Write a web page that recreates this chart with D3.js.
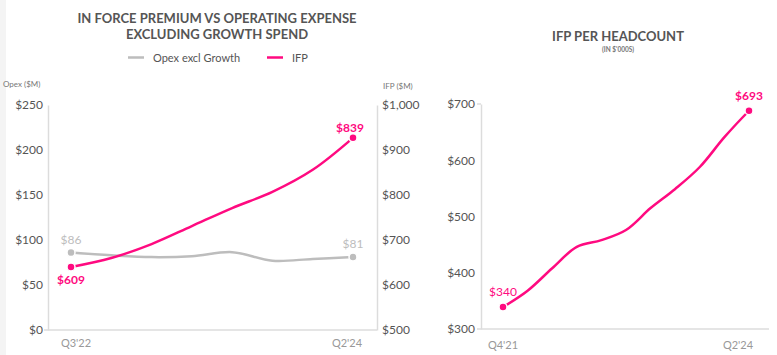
<!DOCTYPE html>
<html><head><meta charset="utf-8">
<script src="https://cdn.jsdelivr.net/npm/d3@7"></script>
<style>body{margin:0;background:#fff;font-family:Lato,"Open Sans",sans-serif}</style>
</head><body><svg id="c" width="777" height="355"></svg>
<script>
// ---- data ----
const quartersA = ["Q3'22","Q4'22","Q1'23","Q2'23","Q3'23","Q4'23","Q1'24","Q2'24"];
const opex = [86, 83, 81, 82, 86.5, 77, 79, 81];
const ifp = [640, 660, 691, 731, 771, 807, 856, 927];
const opexLabels = ["$86", "$81"];
const ifpLabels = ["$609", "$839"];
const opexTicks = [0, 50, 100, 150, 200, 250];
const ifpTicks = [500, 600, 700, 800, 900, 1000];

const quartersB = ["Q4'21","Q1'22","Q2'22","Q3'22","Q4'22","Q1'23","Q2'23","Q3'23","Q4'23","Q1'24","Q2'24"];
const perHead = [339, 368, 408, 446, 458, 476, 515, 549, 588, 641, 688];
const perHeadLabels = ["$340", "$693"];
const perHeadTicks = [300, 400, 500, 600, 700];

const PINK = "#ff0a80", GRAY = "#bdbdbd", TXT = "#555", AX = "#dcdcdc";
const svg = d3.select("#c");
svg.append("rect").attr("x",0).attr("y",0).attr("width",6).attr("height",355).attr("fill","#f4f4f4");

// ---- left chart ----
const xA = d3.scalePoint().domain(quartersA).range([71, 353]);
const yL = d3.scaleLinear().domain([0, 250]).range([330, 105]);
const yR = d3.scaleLinear().domain([500, 1000]).range([330, 105]);

svg.append("text").attr("x",217).attr("y",23).attr("text-anchor","middle")
  .attr("font-size",13).attr("font-weight",700).attr("fill",TXT).text("IN FORCE PREMIUM VS OPERATING EXPENSE");
svg.append("text").attr("x",217).attr("y",39).attr("text-anchor","middle")
  .attr("font-size",13).attr("font-weight",700).attr("fill",TXT).text("EXCLUDING GROWTH SPEND");

// legend
svg.append("line").attr("x1",128).attr("x2",144).attr("y1",57.5).attr("y2",57.5).attr("stroke",GRAY).attr("stroke-width",2.5);
svg.append("text").attr("x",153).attr("y",61.5).attr("font-size",11).attr("fill",TXT).text("Opex excl Growth");
svg.append("line").attr("x1",267).attr("x2",283).attr("y1",57.5).attr("y2",57.5).attr("stroke",PINK).attr("stroke-width",2.5);
svg.append("text").attr("x",292).attr("y",61.5).attr("font-size",11).attr("fill",TXT).text("IFP");

svg.append("text").attr("x",3).attr("y",87).attr("font-size",8).attr("fill","#777").text("Opex ($M)");
svg.append("text").attr("x",383).attr("y",89).attr("font-size",8).attr("fill","#777").text("IFP ($M)");

const axL = svg.append("g").attr("transform","translate(48,0)")
  .call(d3.axisLeft(yL).tickValues(opexTicks).tickFormat(d=>"$"+d).tickSize(0).tickPadding(5));
axL.select(".domain").attr("stroke",AX).attr("stroke-width",1.5);
axL.selectAll("text").attr("font-family","Lato").attr("font-size",12).attr("fill",TXT);
const axR = svg.append("g").attr("transform","translate(377,0)")
  .call(d3.axisRight(yR).tickValues(ifpTicks).tickFormat(d3.format("$,")).tickSize(0).tickPadding(5));
axR.select(".domain").attr("stroke",AX).attr("stroke-width",1.5);
axR.selectAll("text").attr("font-family","Lato").attr("font-size",12).attr("fill",TXT);
svg.append("line").attr("x1",44).attr("x2",377).attr("y1",330).attr("y2",330).attr("stroke",AX).attr("stroke-width",1.5);

svg.append("text").attr("x",xA(quartersA[0])+5).attr("y",347).attr("text-anchor","middle").attr("font-size",11).attr("fill","#999").text(quartersA[0]);
svg.append("text").attr("x",xA(quartersA[7])-6).attr("y",347).attr("text-anchor","middle").attr("font-size",11).attr("fill","#999").text(quartersA[7]);

const lineO = d3.line().x((d,i)=>xA(quartersA[i])).y(d=>yL(d)).curve(d3.curveCatmullRom.alpha(0.5));
const lineI = d3.line().x((d,i)=>xA(quartersA[i])).y(d=>yR(d)).curve(d3.curveCatmullRom.alpha(0.5));
svg.append("path").attr("d",lineO(opex)).attr("fill","none").attr("stroke",GRAY).attr("stroke-width",2.5);
svg.append("path").attr("d",lineI(ifp)).attr("fill","none").attr("stroke",PINK).attr("stroke-width",2.5);
[0,7].forEach((i,k)=>{
  svg.append("circle").attr("cx",xA(quartersA[i])).attr("cy",yL(opex[i])).attr("r",4).attr("fill",GRAY).attr("stroke","#fff").attr("stroke-width",1.5);
  svg.append("circle").attr("cx",xA(quartersA[i])).attr("cy",yR(ifp[i])).attr("r",4).attr("fill",PINK).attr("stroke","#fff").attr("stroke-width",1.5);
  svg.append("text").attr("x",xA(quartersA[i])).attr("y",yL(opex[i])-9).attr("text-anchor","middle")
    .attr("font-size",12).attr("fill",GRAY).text(opexLabels[k]);
});
svg.append("text").attr("x",xA(quartersA[0])).attr("y",yR(ifp[0])+17).attr("text-anchor","middle")
  .attr("font-size",12).attr("font-weight",700).attr("fill",PINK).text(ifpLabels[0]);
svg.append("text").attr("x",xA(quartersA[7])-3).attr("y",yR(ifp[7])-6).attr("text-anchor","middle")
  .attr("font-size",12).attr("font-weight",700).attr("fill",PINK).text(ifpLabels[1]);

// ---- right chart ----
const xB = d3.scalePoint().domain(quartersB).range([503, 749]);
const yB = d3.scaleLinear().domain([300, 700]).range([329, 104]);
svg.append("text").attr("x",618).attr("y",41).attr("text-anchor","middle")
  .attr("font-size",13).attr("font-weight",700).attr("fill",TXT).text("IFP PER HEADCOUNT");
svg.append("text").attr("x",618).attr("y",52).attr("text-anchor","middle")
  .attr("font-size",6.5).attr("font-weight",700).attr("fill","#777").text("(IN $'000S)");
const axB = svg.append("g").attr("transform","translate(481,0)")
  .call(d3.axisLeft(yB).tickValues(perHeadTicks).tickFormat(d=>"$"+d).tickSize(0).tickPadding(6));
axB.select(".domain").attr("stroke",AX).attr("stroke-width",1.5);
axB.selectAll("text").attr("font-family","Lato").attr("font-size",12).attr("fill",TXT);
svg.append("line").attr("x1",477).attr("x2",481).attr("y1",104).attr("y2",104).attr("stroke",AX).attr("stroke-width",1.5);
svg.append("line").attr("x1",477).attr("x2",769).attr("y1",329).attr("y2",329).attr("stroke",AX).attr("stroke-width",1.5);
svg.append("text").attr("x",xB(quartersB[0])).attr("y",349).attr("text-anchor","middle").attr("font-size",11).attr("fill","#999").text(quartersB[0]);
svg.append("text").attr("x",xB(quartersB[10])-11).attr("y",349).attr("text-anchor","middle").attr("font-size",11).attr("fill","#999").text(quartersB[10]);
const lineB = d3.line().x((d,i)=>xB(quartersB[i])).y(d=>yB(d)).curve(d3.curveCatmullRom.alpha(0.5));
svg.append("path").attr("d",lineB(perHead)).attr("fill","none").attr("stroke",PINK).attr("stroke-width",2.5);
[0,10].forEach((i,k)=>{
  svg.append("circle").attr("cx",xB(quartersB[i])).attr("cy",yB(perHead[i])).attr("r",4).attr("fill",PINK).attr("stroke","#fff").attr("stroke-width",1.5);
  svg.append("text").attr("x",xB(quartersB[i])).attr("y",yB(perHead[i])-11).attr("text-anchor","middle")
    .attr("font-size",12).attr("font-weight",k?700:400).attr("fill",PINK).text(perHeadLabels[k]);
});
</script></body></html>
